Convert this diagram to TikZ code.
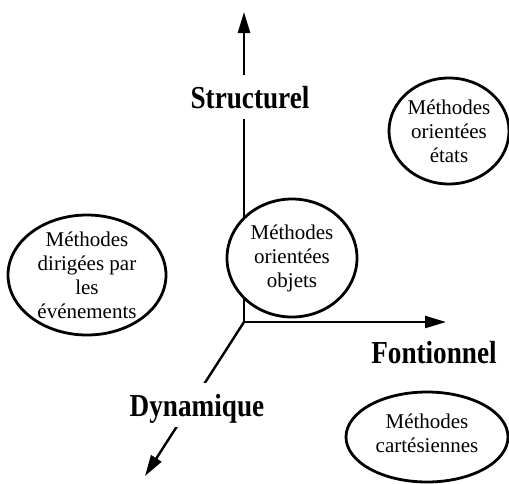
\documentclass[tikz,border=0pt]{standalone}
\usepackage{fontspec}
\setmainfont{Liberation Serif}
\usetikzlibrary{arrows.meta, shapes.geometric}

\begin{document}
\begin{tikzpicture}[x=1pt, y=-1pt,
  axe/.style = {line width=2.4pt, -{Triangle[length=21pt, width=12pt]}},
  axelabel/.style = {fill=white, inner sep=0pt, minimum height=44pt, text depth=0pt, anchor=base, font=\fontsize{32}{32}\selectfont\bfseries},
  methode/.style = {ellipse, draw, line width=2.8pt, fill=white, inner sep=0pt},
  methodetexte/.style = {align=center, inner sep=0pt, font=\fontsize{21}{24}\selectfont}]
\useasboundingbox (0,0) rectangle (509,483);
% axes
\coordinate (o) at (244,322);
\coordinate (s) at (244,12);
\coordinate (f) at (446,322);
\coordinate (d) at (145,476);
\draw[axe] (o) -- (s);
\draw[axe] (o) -- (f);
\draw[axe] (o) -- (d);
\node[axelabel] (structurel) at (250,108) {\scalebox{0.85}[1]{Structurel}};
\node[axelabel, fill=none] (fontionnel) at (434,363) {\scalebox{0.85}[1]{Fontionnel}};
\node[axelabel] (dynamique) at (197,416) {\scalebox{0.85}[1]{Dynamique}};
% methodes
\node[methode, minimum width=158pt, minimum height=120pt,
  label={[methodetexte]center:Méthodes\\dirigées par\\les\\événements}] (evts) at (87,275) {};
\node[methode, minimum width=130pt, minimum height=118pt,
  label={[methodetexte]center:Méthodes\\orientées\\objets}] (objets) at (292,258) {};
\node[methode, minimum width=120pt, minimum height=106pt,
  label={[methodetexte]center:Méthodes\\orientées\\états}] (etats) at (449,131) {};
\node[methode, minimum width=162pt, minimum height=90pt,
  label={[methodetexte, yshift=4pt]center:Méthodes\\cartésiennes}] (cart) at (427,437) {};
\end{tikzpicture}
\end{document}
